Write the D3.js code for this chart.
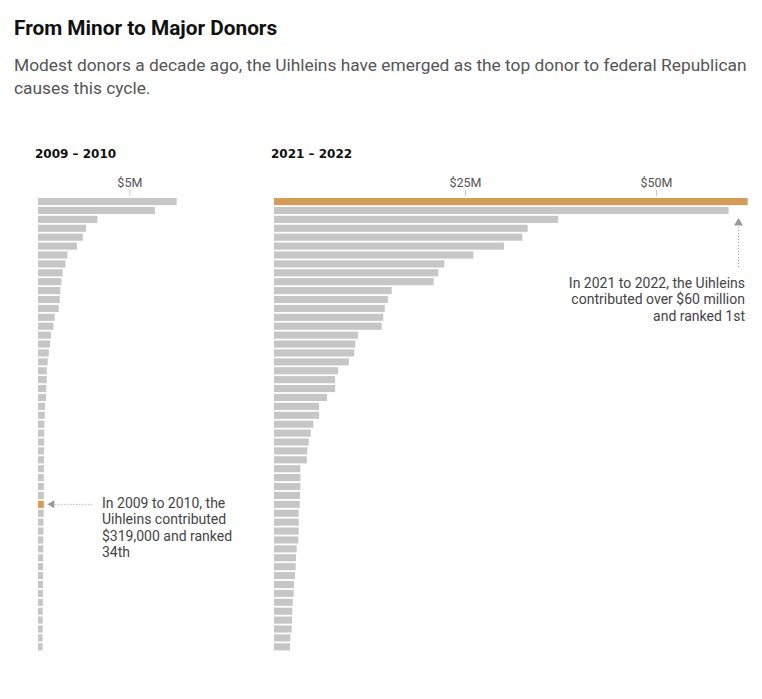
<!DOCTYPE html>
<html>
<head>
<meta charset="utf-8">
<script src="https://cdn.jsdelivr.net/npm/d3@7"></script>
<style>
  body { margin: 0; background: #fff; }
</style>
</head>
<body>
<svg id="chart"></svg>
<script>
// top 51 donors to federal Republican causes, $ millions, sorted by rank
const donors2010 = [7.59, 6.40, 3.25, 2.63, 2.45, 2.13, 1.61, 1.50, 1.35, 1.28,
  1.22, 1.19, 1.13, 0.91, 0.84, 0.71, 0.66, 0.59, 0.53, 0.48,
  0.48, 0.45, 0.44, 0.38, 0.37, 0.35, 0.34, 0.34, 0.33, 0.33,
  0.33, 0.32, 0.32, 0.32, 0.319, 0.31, 0.30, 0.30, 0.29, 0.29,
  0.28, 0.28, 0.28, 0.27, 0.27, 0.27, 0.26, 0.26, 0.26, 0.25, 0.25];
const donors2022 = [62.0, 59.5, 37.2, 33.2, 32.5, 30.1, 26.1, 22.3, 21.5, 20.9,
  15.4, 14.9, 14.5, 14.3, 14.1, 11.0, 10.65, 10.5, 9.8, 8.4,
  8.0, 8.0, 6.94, 5.9, 5.9, 5.15, 4.8, 4.55, 4.36, 4.3,
  3.45, 3.45, 3.45, 3.4, 3.36, 3.23, 3.23, 3.23, 3.18, 2.97,
  2.88, 2.84, 2.75, 2.62, 2.58, 2.45, 2.40, 2.36, 2.32, 2.14, 2.10];
const uihleinRow2010 = 34;   // row of the Uihlein bar (0-based)
const uihleinRow2022 = 0;
const ticks2010 = [5];
const ticks2022 = [25, 50];

const width = 762, height = 699;
const grey = '#c6c6c6', orange = '#d69b57';
const sans = 'Roboto, "Noto Sans", sans-serif';

const svg = d3.select('#chart').attr('width', width).attr('height', height);

svg.append('text')
  .attr('x', 14).attr('y', 35)
  .style('font-family', sans)
  .attr('font-size', 20.8).attr('font-weight', 700).attr('fill', '#111')
  .text('From Minor to Major Donors');

const sub = svg.append('text')
  .attr('x', 14).attr('y', 71)
  .style('font-family', sans)
  .attr('font-size', 17.35).attr('fill', '#555');
sub.append('tspan').attr('x', 14)
  .text('Modest donors a decade ago, the Uihleins have emerged as the top donor to federal Republican');
sub.append('tspan').attr('x', 14).attr('dy', 23).text('causes this cycle.');

const y = d3.scaleBand()
  .domain(d3.range(donors2022.length))
  .range([198, 198 + donors2022.length * 8.87])
  .paddingInner(0.2)
  .paddingOuter(0);

function panel(values, ticks, x0, pxPerM, title, hi) {
  const x = d3.scaleLinear().domain([0, 1]).range([x0, x0 + pxPerM]);
  const g = svg.append('g');

  g.append('text')
    .attr('x', x0 - 3).attr('y', 158)
    .style('font-family', '"DejaVu Sans", sans-serif')
    .attr('font-size', 12).attr('font-weight', 700).attr('fill', '#111')
    .text(title);

  const axis = d3.axisTop(x).tickValues(ticks).tickSize(6).tickPadding(3)
    .tickFormat(d => `$${d}M`);
  g.append('g')
    .attr('transform', 'translate(0,196)')
    .call(axis)
    .call(a => a.select('.domain').remove())
    .call(a => a.selectAll('line').attr('stroke', '#ccc'))
    .call(a => a.selectAll('text').attr('font-size', 12.5).attr('fill', '#555')
      .attr('font-family', sans));

  g.selectAll('rect')
    .data(values)
    .enter()
    .append('rect')
    .attr('x', x(0))
    .attr('y', (d, i) => y(i))
    .attr('width', d => x(d) - x(0))
    .attr('height', y.bandwidth())
    .attr('fill', (d, i) => i === hi ? orange : grey);
  return x;
}

const x2010 = panel(donors2010, ticks2010, 38, 18.27, '2009 – 2010', uihleinRow2010);
const x2022 = panel(donors2022, ticks2022, 274, 7.64, '2021 – 2022', uihleinRow2022);

// left annotation
const ay = y(uihleinRow2010) + y.bandwidth() / 2;
const ax = x2010(donors2010[uihleinRow2010]) + 3.5;
svg.append('path')
  .attr('d', `M${ax},${ay} l7,-4 l0,8 z`)
  .attr('fill', '#999');
svg.append('line')
  .attr('x1', ax + 8).attr('x2', 92).attr('y1', ay).attr('y2', ay)
  .attr('stroke', '#999').attr('stroke-dasharray', '1,2');
const noteL = svg.append('text').attr('x', 102).attr('y', 508)
  .style('font-family', sans)
  .attr('font-size', 14).attr('fill', '#444');
['In 2009 to 2010, the', 'Uihleins contributed', '$319,000 and ranked', '34th']
  .forEach((t, i) => noteL.append('tspan').attr('x', 102).attr('dy', i ? 16.3 : 0).text(t));

// right annotation
const bx = 738.5;
const by = y(1) + y.bandwidth() + 4;
svg.append('path')
  .attr('d', `M${bx},${by} l-4.5,7.5 l9,0 z`)
  .attr('fill', '#999');
svg.append('line')
  .attr('x1', bx).attr('x2', bx).attr('y1', by + 9).attr('y2', 268)
  .attr('stroke', '#999').attr('stroke-dasharray', '1,2');
const noteR = svg.append('text').attr('x', 745).attr('y', 288)
  .style('font-family', sans)
  .attr('font-size', 14).attr('fill', '#444').attr('text-anchor', 'end');
['In 2021 to 2022, the Uihleins', 'contributed over $60 million', 'and ranked 1st']
  .forEach((t, i) => noteR.append('tspan').attr('x', 745).attr('dy', i ? 16.3 : 0).text(t));
</script>
</body>
</html>
